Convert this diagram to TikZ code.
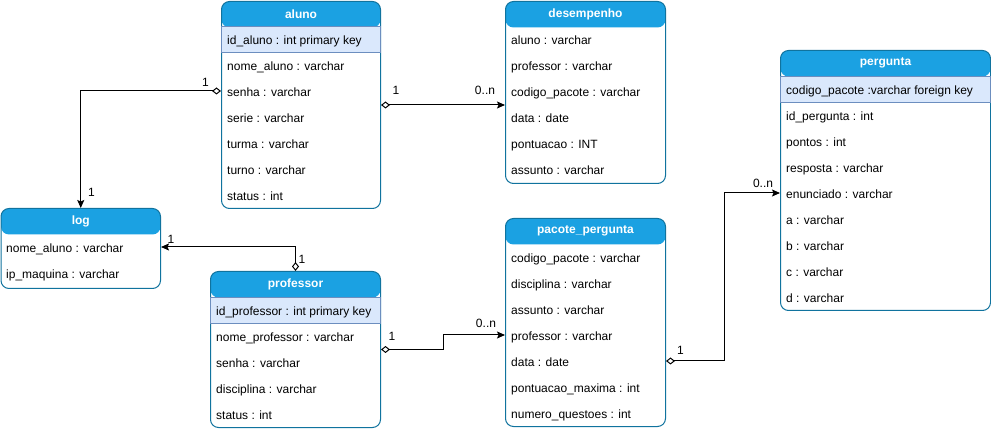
\documentclass[tikz,border=0pt]{standalone}
\usepackage{fontspec}
\setmainfont{Liberation Sans}
\usetikzlibrary{positioning,arrows.meta}
\definecolor{hdrblue}{HTML}{1BA1E2}
\definecolor{framec}{HTML}{10739E}
\definecolor{pkfill}{HTML}{DAE8FC}
\definecolor{pkline}{HTML}{6C8EBF}
\tikzset{
	tbl/.style={draw=framec, fill=white, line width=1pt, rounded corners=8pt, anchor=north west, inner sep=0pt,
		path picture={\fill[hdrblue] (path picture bounding box.north west) rectangle ([yshift=-26pt]path picture bounding box.north east);}},
	hdr/.style={text=white, font=\fontsize{12}{14}\selectfont\bfseries, minimum height=26pt, inner sep=0pt},
	field/.style={anchor=west, inner sep=0pt, text height=11pt, text depth=0pt},
	pkrow/.style={anchor=north west, fill=pkfill, draw=pkline, line width=1pt, minimum height=26pt, inner sep=0pt},
	card/.style={inner sep=0pt},
	rel/.style={draw, line width=1pt, {Diamond[open,length=9pt,width=7pt]}-{Stealth[length=8pt,width=7pt,inset=1.5pt]}}
}
\begin{document}
\begin{tikzpicture}[x=1pt,y=-1pt,font=\fontsize{12}{14}\selectfont]
	\useasboundingbox (0,0) rectangle (991,430);

	% aluno
	\node[tbl, minimum width=159pt, minimum height=207pt] (aluno) at (221,1) {};
	\node[hdr, below=0pt of aluno.north] (aluno-h) {aluno};
	\node[pkrow, minimum width=159pt] (aluno-pk) at (221,26) {};
	\node[field] (aluno-id) at (227,39) {id\_aluno : int primary key};
	\node[field] (aluno-nome) at (227,65) {nome\_aluno : varchar};
	\node[field] (aluno-senha) at (227,91) {senha : varchar};
	\node[field] (aluno-serie) at (227,117) {serie : varchar};
	\node[field] (aluno-turma) at (227,143) {turma : varchar};
	\node[field] (aluno-turno) at (227,169) {turno : varchar};
	\node[field] (aluno-status) at (227,195) {status : int};

	% desempenho
	\node[tbl, minimum width=160pt, minimum height=182pt] (desemp) at (505,1) {};
	\node[hdr, below=0pt of desemp.north] (desemp-h) {desempenho};
	\node[field] (de-aluno) at (511,39) {aluno : varchar};
	\node[field] (de-prof) at (511,65) {professor : varchar};
	\node[field] (de-codigo) at (511,91) {codigo\_pacote : varchar};
	\node[field] (de-data) at (511,117) {data : date};
	\node[field] (de-pont) at (511,143) {pontuacao : INT};
	\node[field] (de-assunto) at (511,169) {assunto : varchar};

	% pergunta
	\node[tbl, minimum width=210pt, minimum height=260pt] (pergunta) at (780,50) {};
	\node[hdr, below=0pt of pergunta.north] (pergunta-h) {pergunta};
	\node[pkrow, minimum width=210pt] (pg-pk) at (780,76) {};
	\node[field] (pg-codigo) at (786,89) {codigo\_pacote :varchar foreign key};
	\node[field] (pg-id) at (786,115) {id\_pergunta : int};
	\node[field] (pg-pontos) at (786,141) {pontos : int};
	\node[field] (pg-resp) at (786,167) {resposta : varchar};
	\node[field] (pg-enun) at (786,193) {enunciado : varchar};
	\node[field] (pg-a) at (786,219) {a : varchar};
	\node[field] (pg-b) at (786,245) {b : varchar};
	\node[field] (pg-c) at (786,271) {c : varchar};
	\node[field] (pg-d) at (786,297) {d : varchar};

	% log
	\node[tbl, minimum width=159.5pt, minimum height=80pt] (log) at (0.5,208) {};
	\node[hdr, below=0pt of log.north] (log-h) {log};
	\node[field] (log-nome) at (6,247) {nome\_aluno : varchar};
	\node[field] (log-ip) at (6,273) {ip\_maquina : varchar};

	% professor
	\node[tbl, minimum width=170pt, minimum height=156pt] (prof) at (210,271) {};
	\node[hdr, below=0pt of prof.north] (prof-h) {professor};
	\node[pkrow, minimum width=170pt] (prof-pk) at (210,297) {};
	\node[field] (prof-id) at (216,310) {id\_professor : int primary key};
	\node[field] (prof-nome) at (216,336) {nome\_professor : varchar};
	\node[field] (prof-senha) at (216,362) {senha : varchar};
	\node[field] (prof-disc) at (216,388) {disciplina : varchar};
	\node[field] (prof-status) at (216,414) {status : int};

	% pacote_pergunta
	\node[tbl, minimum width=160pt, minimum height=208pt] (pacote) at (505,218) {};
	\node[hdr, below=0pt of pacote.north] (pacote-h) {pacote\_pergunta};
	\node[field] (pp-codigo) at (511,257) {codigo\_pacote : varchar};
	\node[field] (pp-disc) at (511,283) {disciplina : varchar};
	\node[field] (pp-assunto) at (511,309) {assunto : varchar};
	\node[field] (pp-prof) at (511,335) {professor : varchar};
	\node[field] (pp-data) at (511,361) {data : date};
	\node[field] (pp-pmax) at (511,387) {pontuacao\_maxima : int};
	\node[field] (pp-num) at (511,413) {numero\_questoes : int};

	% relations
	\draw[rel] (aluno.west |- aluno-senha) -| (log.north);
	\draw[rel] (aluno.east) -- (aluno.east -| desemp.west);
	\draw[rel] (prof.north) |- (log.east |- log-nome);
	\draw[rel] (prof.east) -- ++(62,0) |- (pacote.west |- pp-prof);
	\draw[rel] (pacote.east |- pp-data) -- ++(58,0) |- (pergunta.west |- pg-enun);

	\node[card] at (205.5,82.5) {1};
	\node[card] at (91.5,192.5) {1};
	\node[card] at (396,90.5) {1};
	\node[card] at (485,90.5) {0..n};
	\node[card] at (171,239) {1};
	\node[card] at (302,259) {1};
	\node[card] at (392,336.5) {1};
	\node[card] at (486,323) {0..n};
	\node[card] at (680.5,350) {1};
	\node[card] at (763,183) {0..n};
\end{tikzpicture}
\end{document}
